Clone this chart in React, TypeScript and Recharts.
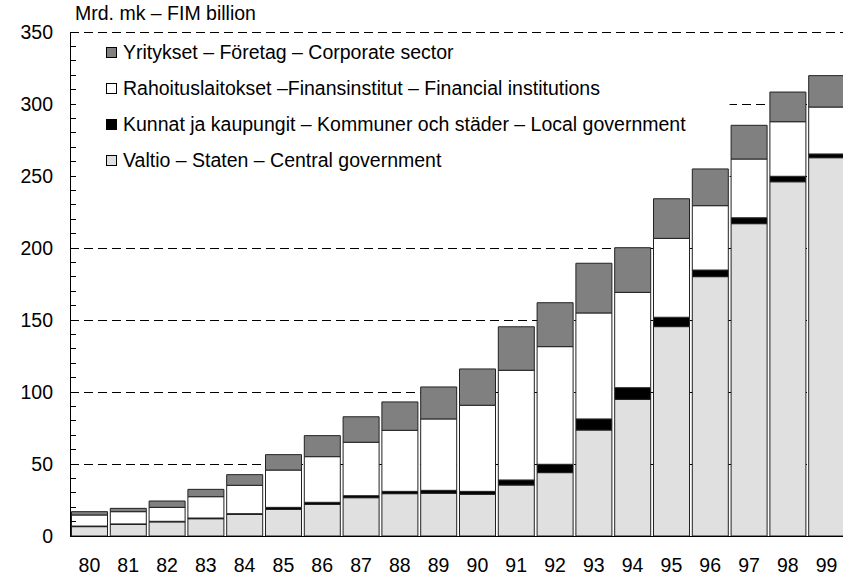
import React from 'react';
import { BarChart, Bar, XAxis, YAxis, CartesianGrid, ReferenceArea } from 'recharts';

// years 1980-1999, FIM billion
const YEARS = ['80', '81', '82', '83', '84', '85', '86', '87', '88', '89', '90', '91', '92', '93', '94', '95', '96', '97', '98', '99'];
const VALTIO = [6.5, 8.0, 9.8, 12.0, 15.0, 18.5, 22.0, 26.6, 29.4, 29.7, 29.0, 35.4, 44.0, 73.6, 94.9, 145.4, 180.1, 216.9, 246.0, 262.7];
const KUNNAT = [0.4, 0.4, 0.4, 0.5, 0.5, 1.4, 1.4, 1.4, 1.6, 2.0, 2.0, 3.5, 5.8, 7.7, 8.1, 6.5, 4.6, 4.1, 3.8, 2.6];
const RAHOITUS = [7.7, 8.5, 9.7, 14.8, 19.7, 25.9, 31.7, 37.1, 42.4, 49.6, 59.8, 76.2, 81.7, 73.6, 66.2, 54.8, 44.7, 40.8, 37.9, 32.6];
const YRITYKSET = [2.3, 2.3, 4.4, 5.1, 7.4, 10.7, 14.6, 17.7, 19.7, 22.2, 25.2, 30.2, 30.5, 34.5, 31.0, 27.5, 25.5, 23.4, 20.6, 21.8];

const Y_TICKS = [0, 10, 20, 30, 40, 50, 60, 70, 80, 90, 100, 110, 120, 130, 140, 150, 160, 170, 180, 190, 200,
  210, 220, 230, 240, 250, 260, 270, 280, 290, 300, 310, 320, 330, 340, 350];
const GRID_VALUES = [50, 100, 150, 200, 250, 300, 350];

const TITLE = 'Mrd. mk – FIM billion';

// bottom to top in the stack
const SERIES = [
  { key: 'valtio', name: 'Valtio – Staten – Central government', color: '#e0e0e0' },
  { key: 'kunnat', name: 'Kunnat ja kaupungit – Kommuner och städer – Local government', color: '#000000' },
  { key: 'rahoitus', name: 'Rahoituslaitokset –Finansinstitut – Financial institutions', color: '#ffffff' },
  { key: 'yritykset', name: 'Yritykset – Företag – Corporate sector', color: '#808080' },
];

const data = YEARS.map((year, i) => ({
  year,
  valtio: VALTIO[i],
  kunnat: KUNNAT[i],
  rahoitus: RAHOITUS[i],
  yritykset: YRITYKSET[i],
}));

const FONT = 'Arial, "Liberation Sans", sans-serif';
const FS = 19.5;

function YTick(props: any) {
  const { x, y, payload } = props;
  const v = payload.value as number;
  return (
    <g>
      <line x1={x} x2={x + 6} y1={y} y2={y} stroke="#000" strokeWidth={1} shapeRendering="crispEdges" />
      {v % 50 === 0 && (
        <text x={x - 17} y={y} dy="0.36em" textAnchor="end" fontSize={FS} fill="#000" fontFamily={FONT}>
          {v}
        </text>
      )}
    </g>
  );
}

function LegendBox() {
  const rows = [...SERIES].reverse();
  return (
    <div style={{ position: 'absolute', left: 106, top: 35, fontFamily: FONT, fontSize: FS, color: '#000' }}>
      {rows.map((s) => (
        <div key={s.key} style={{ height: 36, display: 'flex', alignItems: 'center', whiteSpace: 'nowrap' }}>
          <span
            style={{
              display: 'inline-block',
              width: 9,
              height: 9,
              border: '1px solid #000',
              background: s.color,
              marginRight: 6,
              position: 'relative',
              top: -1,
            }}
          />
          <span style={{ lineHeight: `${FS}px` }}>{s.name}</span>
        </div>
      ))}
    </div>
  );
}

export default function App() {
  return (
    <div style={{ position: 'absolute', left: 0, top: 0, width: 843, height: 576, overflow: 'hidden', background: '#fff' }}>
      <BarChart
        width={846}
        height={576}
        data={data}
        margin={{ top: 32, right: 0, bottom: 0, left: 0 }}
        barCategoryGap={1.5}
      >
        <CartesianGrid
          vertical={false}
          horizontalValues={GRID_VALUES}
          stroke="#000"
          strokeDasharray="9 5"
          shapeRendering="crispEdges"
        />
        <ReferenceArea x1="80" x2="96" y1={240} y2={345} fill="#fff" fillOpacity={1} stroke="none" />
        <XAxis
          dataKey="year"
          height={40}
          tickLine={false}
          tickSize={0}
          tickMargin={22}
          axisLine={{ stroke: '#000', shapeRendering: 'crispEdges' }}
          tick={{ fill: '#000', fontSize: FS, fontFamily: FONT }}
        />
        <YAxis
          width={70}
          domain={[0, 350]}
          ticks={Y_TICKS}
          interval={0}
          tickSize={0}
          tickMargin={0}
          tickLine={false}
          axisLine={{ stroke: '#000', shapeRendering: 'crispEdges' }}
          tick={<YTick />}
        />
        {SERIES.map((s) => (
          <Bar
            key={s.key}
            dataKey={s.key}
            name={s.name}
            stackId="a"
            fill={s.color}
            stroke="#222"
            strokeWidth={1}
            isAnimationActive={false}
          />
        ))}
      </BarChart>
      <div style={{ position: 'absolute', left: 75, top: 4, fontFamily: FONT, fontSize: FS, lineHeight: `${FS}px`, color: '#000', whiteSpace: 'nowrap' }}>
        {TITLE}
      </div>
      <LegendBox />
    </div>
  );
}
